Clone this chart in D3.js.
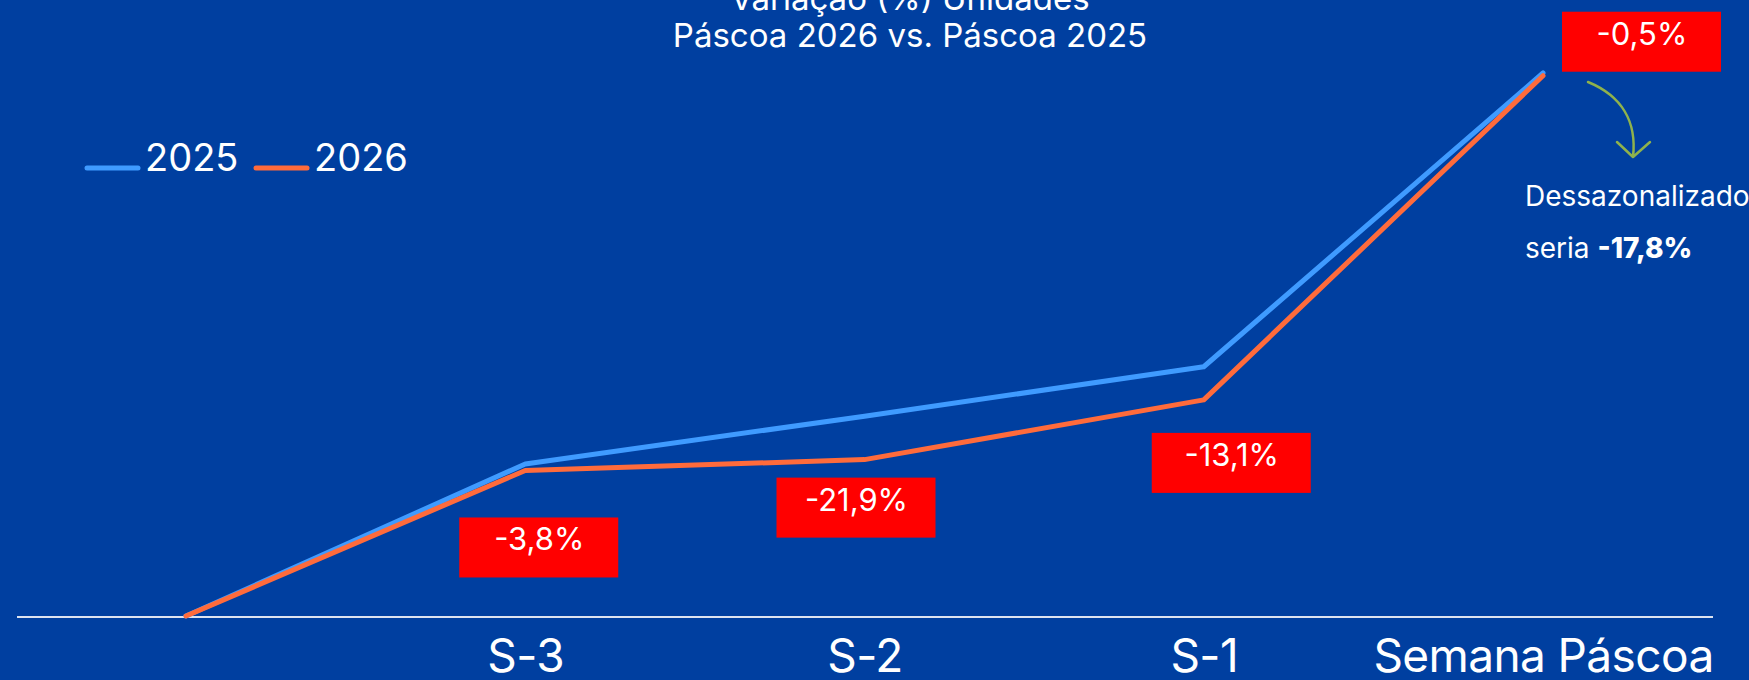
<!DOCTYPE html>
<html>
<head>
<meta charset="utf-8">
<script src="https://cdn.jsdelivr.net/npm/d3@7"></script>
<style>
  body { margin: 0; background: #003fa0; }
  svg { display: block; font-family: Inter, 'Noto Sans', sans-serif; }
</style>
</head>
<body>
<svg width="1749" height="680"></svg>
<script>
  // data (index, 0 = axis baseline)
  const weeks = ['', 'S-3', 'S-2', 'S-1', 'Semana Páscoa'];
  const values2025 = [0, 28.0, 36.8, 45.9, 100];
  const values2026 = [0, 26.8, 28.8, 39.8, 99.5];
  const variation = [null, '-3,8%', '-21,9%', '-13,1%', '-0,5%'];
  const titleLines = ['Variação (%) Unidades', 'Páscoa 2026 vs. Páscoa 2025'];

  const svg = d3.select('svg');
  const width = +svg.attr('width');
  const height = +svg.attr('height');

  const blue = '#3f9bff';
  const orange = '#ff6b3b';

  const x = d3.scalePoint().domain(weeks).range([186, 1543]);
  const y = d3.scaleLinear().domain([0, 100]).range([616, 73]);

  svg.append('rect')
      .attr('width', width)
      .attr('height', height)
      .attr('fill', '#003fa0');

  // title
  svg.append('g')
    .selectAll('text')
    .data(titleLines)
    .enter().append('text')
      .attr('x', 910)
      .attr('y', (d, i) => 10 + i * 37)
      .attr('text-anchor', 'middle')
      .attr('fill', '#fff')
      .attr('font-size', 33)
      .text(d => d);

  // x axis
  const xAxis = svg.append('g')
      .attr('transform', `translate(0,${y(0)})`)
      .call(d3.axisBottom(x).tickSize(0).tickPadding(23));
  xAxis.select('.domain').remove();
  xAxis.selectAll('text')
      .attr('fill', '#fff')
      .attr('font-size', 46)
      .attr('letter-spacing', -0.6)
      .attr('font-family', 'Inter, sans-serif');

  svg.append('line')
      .attr('x1', 17)
      .attr('x2', 1713)
      .attr('y1', y(0) + 1)
      .attr('y2', y(0) + 1)
      .attr('stroke', '#dde3f0')
      .attr('stroke-width', 2);

  const line = d3.line()
      .x((d, i) => x(weeks[i]))
      .y(d => y(d));

  svg.append('path')
      .datum(values2025)
      .attr('d', line)
      .attr('fill', 'none')
      .attr('stroke', blue)
      .attr('stroke-width', 5)
      .attr('stroke-linecap', 'round')
      .attr('stroke-linejoin', 'round');

  svg.append('path')
      .datum(values2026)
      .attr('d', line)
      .attr('fill', 'none')
      .attr('stroke', orange)
      .attr('stroke-width', 5)
      .attr('stroke-linecap', 'round')
      .attr('stroke-linejoin', 'round');

  // variation labels, offset from the 2026 point
  const labelOffsets = [null, [14, 47], [-8, 18], [28, 33], [99, -64]];
  const labels = svg.append('g')
    .selectAll('g')
    .data(variation.map((v, i) => ({ v, i })).filter(d => d.v))
    .enter().append('g')
      .attr('transform', d => {
        const o = labelOffsets[d.i];
        return `translate(${x(weeks[d.i]) + o[0]},${y(values2026[d.i]) + o[1]})`;
      });
  labels.append('rect')
      .attr('x', -80)
      .attr('width', 159)
      .attr('height', 60)
      .attr('fill', '#ff0000');
  labels.append('text')
      .attr('y', 33)
      .attr('text-anchor', 'middle')
      .attr('fill', '#fff')
      .attr('font-size', 31)
      .text(d => d.v);

  // legend
  const legend = svg.append('g')
    .selectAll('g')
    .data([['2025', blue], ['2026', orange]])
    .enter().append('g')
      .attr('transform', (d, i) => `translate(${87 + i * 169},168)`);
  legend.append('line')
      .attr('x2', 51)
      .attr('stroke', d => d[1])
      .attr('stroke-width', 5)
      .attr('stroke-linecap', 'round');
  legend.append('text')
      .attr('x', 58)
      .attr('y', 3)
      .attr('fill', '#fff')
      .attr('font-size', 38)
      .text(d => d[0]);

  // note
  svg.append('path')
      .attr('d', 'M1588,82 C1622,96 1637,122 1633,157 M1617,142 L1633,157 L1650,142')
      .attr('fill', 'none')
      .attr('stroke', '#8fb24c')
      .attr('stroke-width', 2.5)
      .attr('stroke-linecap', 'round')
      .attr('stroke-linejoin', 'round');

  const note = svg.append('text')
      .attr('x', 1525)
      .attr('fill', '#fff')
      .attr('font-size', 28);
  note.append('tspan')
      .attr('x', 1525)
      .attr('y', 206)
      .text('Dessazonalizado');
  note.append('tspan')
      .attr('x', 1525)
      .attr('y', 258)
      .text('seria ');
  note.append('tspan')
      .attr('font-weight', 800)
      .text('-17,8%');
</script>
</body>
</html>
